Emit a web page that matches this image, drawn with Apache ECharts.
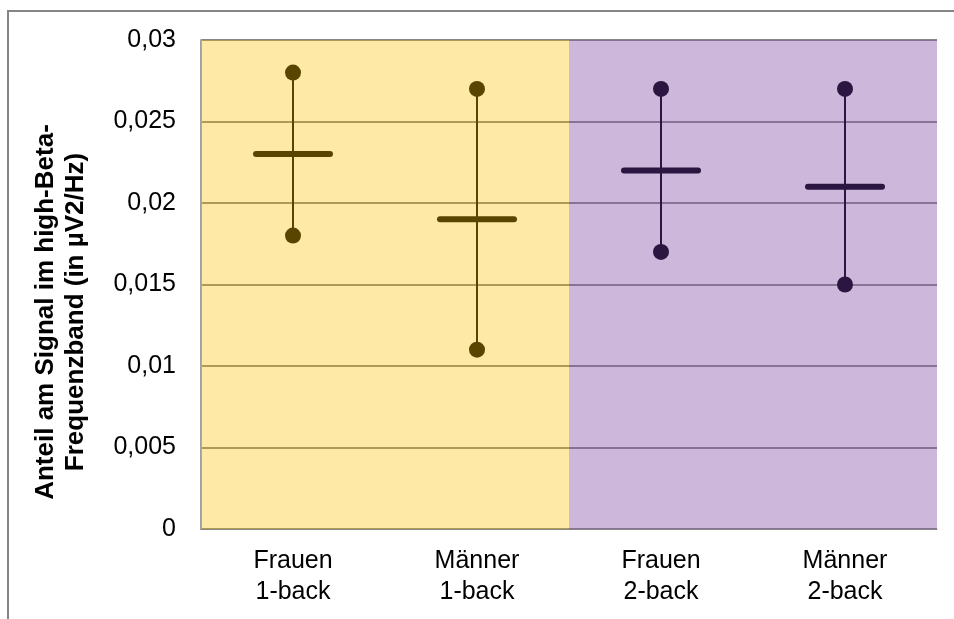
<!DOCTYPE html>
<html>
<head>
<meta charset="utf-8">
<script src="https://cdn.jsdelivr.net/npm/echarts@6/dist/echarts.min.js"></script>
<style>
  html, body { margin: 0; padding: 0; background: #fff; }
  #chart { width: 954px; height: 619px; }
</style>
</head>
<body>
<div id="chart"></div>
<script>
// Kategorien und Werte
const categories = ['Frauen\n1-back', 'Männer\n1-back', 'Frauen\n2-back', 'Männer\n2-back'];
const maxValues = [0.028, 0.027, 0.027, 0.027];
const minValues = [0.018, 0.011, 0.017, 0.015];
const meanValues = [0.023, 0.019, 0.022, 0.021];
const bandValues = [0.03, 0.03, 0.03, 0.03]; // Hintergrund bis zum Achsenmaximum

const bandColors = ['rgba(254,191,0,0.35)', 'rgba(254,191,0,0.35)', 'rgba(140,90,174,0.43)', 'rgba(140,90,174,0.43)'];
const markColors = ['#594400', '#594400', '#2a1640', '#2a1640'];

const chart = echarts.init(document.getElementById('chart'));

const fmt = (v) => String(parseFloat(v.toFixed(3))).replace('.', ',');

const option = {
  animation: false,
  textStyle: { fontFamily: 'Liberation Sans, Arial, sans-serif' },
  grid: { left: 201, top: 40, right: 17, bottom: 90 },
  xAxis: {
    type: 'category',
    data: categories,
    axisTick: { show: false },
    axisLine: { show: true, lineStyle: { color: '#868686', width: 1 } },
    axisLabel: {
      color: '#000',
      fontSize: 25,
      lineHeight: 31,
      margin: 17,
      interval: 0
    }
  },
  yAxis: {
    type: 'value',
    min: 0,
    max: 0.03,
    interval: 0.005,
    axisLine: { show: true, lineStyle: { color: '#a0a0a0', width: 2 } },
    axisTick: { show: false },
    splitLine: { show: true, lineStyle: { color: '#868686', width: 2 } },
    axisLabel: {
      color: '#000',
      fontSize: 25,
      margin: 25,
      formatter: fmt
    }
  },
  graphic: [
    {
      type: 'rect',
      shape: { x: 8, y: 11, width: 1200, height: 1200 },
      style: { fill: 'none', stroke: '#868686', lineWidth: 2 },
      silent: true
    },
    {
      type: 'text',
      x: 61,
      y: 312,
      rotation: Math.PI / 2,
      style: {
        text: 'Anteil am Signal im high-Beta-\nFrequenzband (in µV2/Hz)',
        fontFamily: 'Liberation Sans, Arial, sans-serif',
        fontSize: 26,
        fontWeight: 'bold',
        lineHeight: 30,
        fill: '#000',
        align: 'center',
        verticalAlign: 'middle'
      }
    }
  ],
  series: [
    {
      type: 'bar',
      barCategoryGap: '0%',
      silent: true,
      data: bandValues.map((v, i) => ({ value: v, itemStyle: { color: bandColors[i] } }))
    },
    {
      type: 'custom',
      z: 5,
      encode: { x: 0, y: [1, 2, 3] },
      data: categories.map((c, i) => [i, minValues[i], maxValues[i], meanValues[i]]),
      renderItem: function (params, api) {
        const i = api.value(0);
        const lo = api.coord([i, api.value(1)]);
        const hi = api.coord([i, api.value(2)]);
        const mid = api.coord([i, api.value(3)]);
        const color = markColors[params.dataIndex];
        return {
          type: 'group',
          children: [
            {
              type: 'line',
              shape: { x1: lo[0], y1: lo[1], x2: hi[0], y2: hi[1] },
              style: { stroke: color, lineWidth: 2 }
            },
            {
              type: 'line',
              shape: { x1: mid[0] - 37, y1: mid[1], x2: mid[0] + 37, y2: mid[1] },
              style: { stroke: color, lineWidth: 6, lineCap: 'round' }
            },
            {
              type: 'circle',
              shape: { cx: hi[0], cy: hi[1], r: 8 },
              style: { fill: color }
            },
            {
              type: 'circle',
              shape: { cx: lo[0], cy: lo[1], r: 8 },
              style: { fill: color }
            }
          ]
        };
      }
    }
  ]
};

chart.setOption(option);
</script>
</body>
</html>
